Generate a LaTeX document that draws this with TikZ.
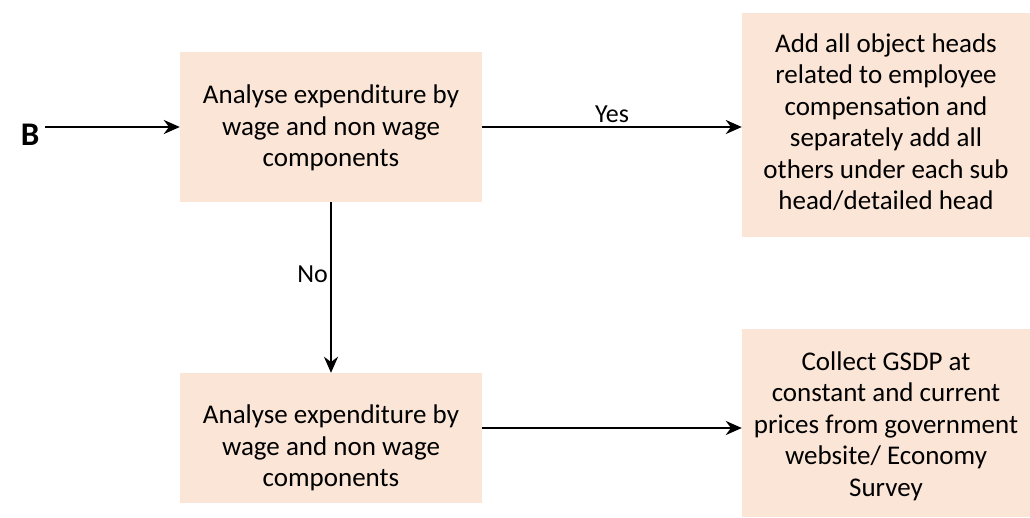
\documentclass[tikz,border=0pt]{standalone}
\usepackage{fontspec}
\setmainfont{Carlito}
\usetikzlibrary{arrows.meta}
\definecolor{boxfill}{HTML}{FBE5D6}
\begin{document}
\begin{tikzpicture}[x=1pt,y=-1pt,
  box/.style={rectangle, fill=boxfill, draw=none, inner sep=0pt},
  txt/.style={align=center, inner sep=0pt, font=\fontsize{27}{31.5}\selectfont},
  flow/.style={line width=2.4pt, -{Stealth[length=16pt,width=14pt]}},
  lbl/.style={inner sep=0pt, font=\fontsize{26}{30}\selectfont}]
\useasboundingbox (0,0) rectangle (1030,518);

% boxes
\node[box, minimum width=302, minimum height=150] (b1) at (331,127) {};
\node[box, minimum width=288, minimum height=224] (b2) at (886,125) {};
\node[box, minimum width=302, minimum height=130] (b3) at (331,438) {};
\node[box, minimum width=288, minimum height=188] (b4) at (886,423) {};

% box texts
\node[txt] at (331,128) {Analyse expenditure by\\wage and non wage\\components};
\node[txt] at (886,122) {Add all object heads\\related to employee\\compensation and\\separately add all\\others under each sub\\head/detailed head};
\node[txt] at (331,448) {Analyse expenditure by\\wage and non wage\\components};
\node[txt] at (886,426) {Collect GSDP at\\constant and current\\prices from government\\website/ Economy\\Survey};

% entry point
\node[inner sep=0pt, font=\fontsize{33}{36}\selectfont\bfseries] (B) at (30,135) {B};
\coordinate (Bs) at (45,127);

% connectors
\draw[flow] (Bs) -- (b1.west |- Bs);
\draw[flow] (b1.east |- Bs) -- (b2.west |- Bs) node[lbl, pos=0.5, above=3pt] {Yes};
\draw[flow] (b1.south) -- (b3.north) node[lbl, pos=0.42, left=2pt] {No};
\draw[flow] (b3.east |- 0,428) -- (b4.west |- 0,428);
\end{tikzpicture}
\end{document}
